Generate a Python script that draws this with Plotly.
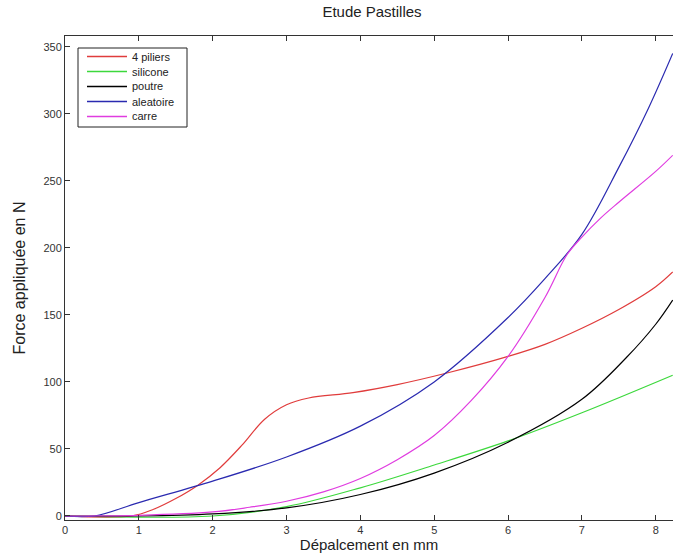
import plotly.graph_objects as go

# ---- data ----
red_x = [0, 0.9, 1.2, 1.5, 1.8, 2.1, 2.4, 2.7, 3.0, 3.3, 3.9, 4.5, 5.2, 6.0, 6.5, 7.0, 7.5, 8.0, 8.23]
red_y = [0, 0, 5, 13, 23, 36, 53, 72, 83, 88, 92, 98, 107, 119, 128, 140, 154, 171, 182]

green_x = [0, 2, 3, 4, 5, 6, 7, 8.23]
green_y = [0, 0, 7, 21, 38, 56, 77, 105]

black_x = [0, 1, 2, 3, 4, 5, 6, 7, 7.6, 8.0, 8.23]
black_y = [0, 0, 1.5, 6, 16, 32, 55, 87, 118, 143, 161]

blue_x = [0, 0.4, 1, 2, 3, 4, 5, 6, 6.5, 7, 7.5, 7.9, 8.23]
blue_y = [0, 0, 10, 26, 44, 67, 100, 148, 177, 210, 260, 304, 345]

mag_x = [0, 1, 2, 2.5, 3.0, 3.5, 4.0, 4.5, 5.0, 5.5, 6.0, 6.5, 6.8, 7.0, 7.25, 7.5, 8.0, 8.23]
mag_y = [0, 0.5, 3, 6.5, 11, 18, 28, 42, 60, 86, 119, 163, 195, 208, 222, 234, 257, 269]

names = ["4 piliers", "silicone", "poutre", "aleatoire", "carre"]
x_ticks = [0, 1, 2, 3, 4, 5, 6, 7, 8]
y_ticks = [0, 50, 100, 150, 200, 250, 300, 350]

colors = ["#e03c3c", "#3cd83c", "#000000", "#2a2ab0", "#e03ce0"]
series = [(red_x, red_y), (green_x, green_y), (black_x, black_y), (blue_x, blue_y), (mag_x, mag_y)]

fig = go.Figure()
for (xs, ys), c, n in zip(series, colors, names):
    fig.add_trace(go.Scatter(x=xs, y=ys, name=n, mode="lines", showlegend=False,
                             line=dict(color=c, width=1.2, shape="spline", smoothing=1.0)))

# plot area in pixels: left 65, right 673, top 36, bottom 520
L, R, T, B = 65, 673, 36, 520
def px(x):
    return (x - L) / (R - L)
def py(y):
    return (B - y) / (B - T)

font = "Liberation Sans, Arial, sans-serif"

# legend box drawn as a MATLAB-like legend
shapes = [dict(type="rect", xref="paper", yref="paper", x0=px(78), x1=px(187), y0=py(127), y1=py(48),
               line=dict(color="#222", width=1), fillcolor="white", layer="above")]
annotations = []
row_y = [56.5, 71.5, 86.5, 101.5, 116.5]
for ry, c, n in zip(row_y, colors, names):
    shapes.append(dict(type="line", xref="paper", yref="paper", x0=px(87), x1=px(127), y0=py(ry), y1=py(ry),
                       line=dict(color=c, width=1.5), layer="above"))
    annotations.append(dict(xref="paper", yref="paper", x=px(130), y=py(ry), text=n, showarrow=False,
                            xanchor="left", yanchor="middle", font=dict(size=11, color="#222", family=font)))

fig.update_layout(
    width=673, height=558,
    margin=dict(l=L, r=0, t=T, b=558 - B),
    paper_bgcolor="white", plot_bgcolor="white",
    font=dict(family=font, size=11, color="#333"),
    title=dict(text="Etude Pastilles", x=372/673, xanchor="center", y=1-12/558, yanchor="middle",
               font=dict(size=15, color="#222")),
    shapes=shapes, annotations=annotations,
)
fig.update_xaxes(range=[0, 8.234], tickvals=x_ticks, ticks="inside", ticklen=5,
                 showline=True, linecolor="#333", linewidth=1, mirror="ticks",
                 showgrid=False, zeroline=False, tickcolor="#333",
                 title=dict(text="Dépalcement en mm", standoff=4, font=dict(size=15, color="#222")))
fig.update_yaxes(range=[-3, 358], tickvals=y_ticks, ticks="inside", ticklen=5,
                 showline=True, linecolor="#333", linewidth=1, mirror=False,
                 showgrid=False, zeroline=False, tickcolor="#333",
                 title=dict(text="Force appliquée en N", standoff=13, font=dict(size=16, color="#222")))

fig.write_html("out.html")
